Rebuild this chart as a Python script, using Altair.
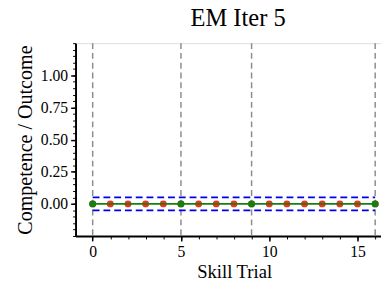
import altair as alt
import pandas as pd

# ---- data ----
trials = list(range(17))
outcomes = [0.0] * 17
change_points = [0, 5, 9, 16]
competence = [0.0, 0.0, 0.0, 0.0]
band_levels = [0.05, -0.05]
band_start = [0, 0]
band_end = [16, 16]

x_major = [0, 5, 10, 15]
x_minor = list(range(-1, 17))
y_major = [0.0, 0.25, 0.5, 0.75, 1.0]
y_minor = [round(-0.25 + 0.05 * i, 2) for i in range(31)]

FONT = "Liberation Serif, Times New Roman, Times, serif"
XS = alt.Scale(domain=[-0.97, 16.33], nice=False, zero=False)
YS = alt.Scale(domain=[-0.25, 1.25], nice=False, zero=False)

pts = pd.DataFrame({"trial": trials, "outcome": outcomes})
cp = pd.DataFrame({"trial": change_points, "comp": competence})
band = pd.DataFrame({"x": band_start, "x2": band_end, "y": band_levels})

vlines = alt.Chart(cp).mark_rule(color="#8c8c8c", strokeWidth=1.5, strokeDash=[6, 4]).encode(
    x=alt.X("trial:Q", scale=XS, axis=None)
)

blue = alt.Chart(band).mark_rule(color="#0000ee", strokeWidth=1.8, strokeDash=[7, 4]).encode(
    x=alt.X("x:Q", scale=XS, axis=None),
    x2="x2:Q",
    y=alt.Y("y:Q", scale=YS, axis=None),
)

red = alt.Chart(pts).mark_circle(color="#f8301a", size=50, opacity=1).encode(
    x=alt.X("trial:Q", scale=XS, axis=alt.Axis(
        values=x_major, orient="bottom", title="Skill Trial", grid=False,
        tickSize=5, tickWidth=1.5, tickColor="black", domainColor="black", domainWidth=2,
        labelFont=FONT, labelFontSize=16, labelColor="black", labelPadding=3,
        titleFont=FONT, titleFontSize=19, titleFontWeight="normal", titleColor="black",
        titlePadding=3, titleX=162)),
    y=alt.Y("outcome:Q", scale=YS, axis=alt.Axis(
        values=y_major, orient="left", format=".2f", title="Competence / Outcome", grid=False,
        tickSize=5, tickWidth=1.5, tickColor="black", domainColor="black", domainWidth=2,
        labelFont=FONT, labelFontSize=16, labelColor="black", labelPadding=3,
        titleFont=FONT, titleFontSize=20.5, titleFontWeight="normal", titleColor="black",
        titlePadding=5)),
)

gline = alt.Chart(cp).mark_line(color="#128012", strokeWidth=2).encode(
    x=alt.X("trial:Q", scale=XS, axis=None),
    y=alt.Y("comp:Q", scale=YS, axis=None),
)

gpts = alt.Chart(cp).mark_circle(color="#128012", size=50, opacity=1).encode(
    x=alt.X("trial:Q", scale=XS, axis=alt.Axis(
        values=x_minor, orient="bottom", labels=False, domain=False, title=None, grid=False,
        tickSize=3, tickWidth=1, tickColor="black")),
    y=alt.Y("comp:Q", scale=YS, axis=alt.Axis(
        values=y_minor, orient="left", labels=False, domain=False, title=None, grid=False,
        tickSize=3, tickWidth=1, tickColor="black")),
)

chart = (
    alt.layer(vlines, blue, red, gline, gpts)
    .resolve_scale(x="shared", y="shared")
    .resolve_axis(x="independent", y="independent")
    .properties(
        width=312,
        height=197,
        padding={"left": 69, "top": 33, "right": 0, "bottom": 43},
        autosize=alt.AutoSizeParams(type="none"),
        title=alt.TitleParams("EM Iter 5", font=FONT, fontSize=25, fontWeight="normal",
                              color="black", anchor="middle", dx=10, offset=12),
    )
    .configure_view(stroke=None, clip=True)
    .configure(background="white")
)

chart.save("out.html", embed_options={"renderer": "svg", "actions": False})
